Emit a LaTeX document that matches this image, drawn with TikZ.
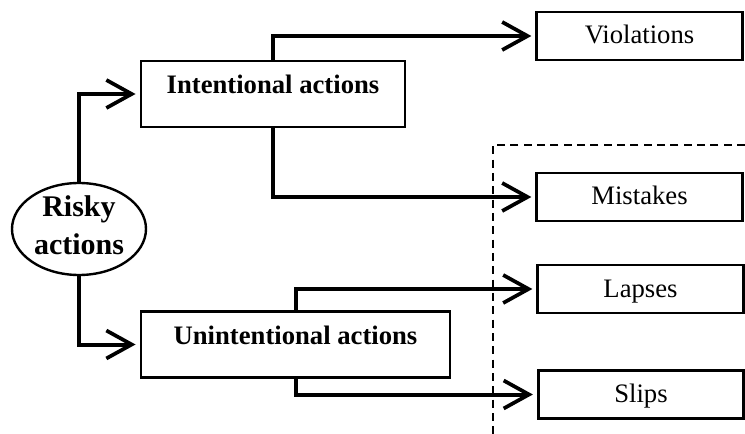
\documentclass[tikz,border=0pt]{standalone}
\usepackage{fontspec}
\setmainfont{Liberation Serif}
\usetikzlibrary{shapes.geometric,arrows.meta}
\begin{document}
\begin{tikzpicture}[x=0.75pt,y=-0.75pt,
  conn/.style={line width=3pt,
    -{Straight Barb[length=19pt,width=21pt,line width=2.8pt]},
    shorten >=3pt},
  bigbox/.style={draw, line width=2.2pt, inner sep=0pt,
    font=\fontsize{20}{24}\selectfont\bfseries},
  leaf/.style={draw, line width=2.2pt, inner sep=0pt,
    minimum width=154pt, text height=24pt, text depth=12pt,
    font=\fontsize{20}{24}\selectfont},
  groupline/.style={line width=2.2pt, dash pattern=on 6pt off 4pt}
  ]
  \useasboundingbox (0,0) rectangle (745,434);

  % root: outline and its two-line label
  \node[ellipse, draw, line width=1.8pt, minimum width=100.5pt,
        minimum height=69pt, inner sep=0pt]
        (risky) at (79,229) {};
  \node[inner sep=0pt, align=center,
        font=\fontsize{22.5}{28.5}\selectfont\bfseries]
        (riskylbl) at (79,225) {Risky\\actions};

  % second level
  \node[bigbox, minimum width=198pt, text height=24.75pt, text depth=24.75pt]
        (int) at (273,94) {Intentional actions};
  \node[bigbox, minimum width=231.75pt, text height=25pt, text depth=25pt]
        (unint) at (295.5,344.5) {Unintentional actions};

  % leaves
  \node[leaf] (viol)  at (639.5,36)  {Violations};
  \node[leaf] (mist)  at (639.5,197) {Mistakes};
  \node[leaf] (laps)  at (640.5,289) {Lapses};
  \node[leaf] (slips) at (641,394.5) {Slips};

  % error group boundary
  \coordinate (gcorner) at (493,145);
  \coordinate (gright)  at (745,145);
  \coordinate (gbottom) at (493,434);
  \draw[groupline] (gright) -- (gcorner) -- (gbottom);

  % connectors
  \draw[conn] (risky.north) |- (int.west);
  \draw[conn] (risky.south) |- (unint.west);
  \draw[conn] (int.north)   |- (viol.west);
  \draw[conn] (int.south)   |- (mist.west);
  \draw[conn] (unint.north) |- (laps.west);
  \draw[conn] (unint.south) |- (slips.west);
\end{tikzpicture}
\end{document}
